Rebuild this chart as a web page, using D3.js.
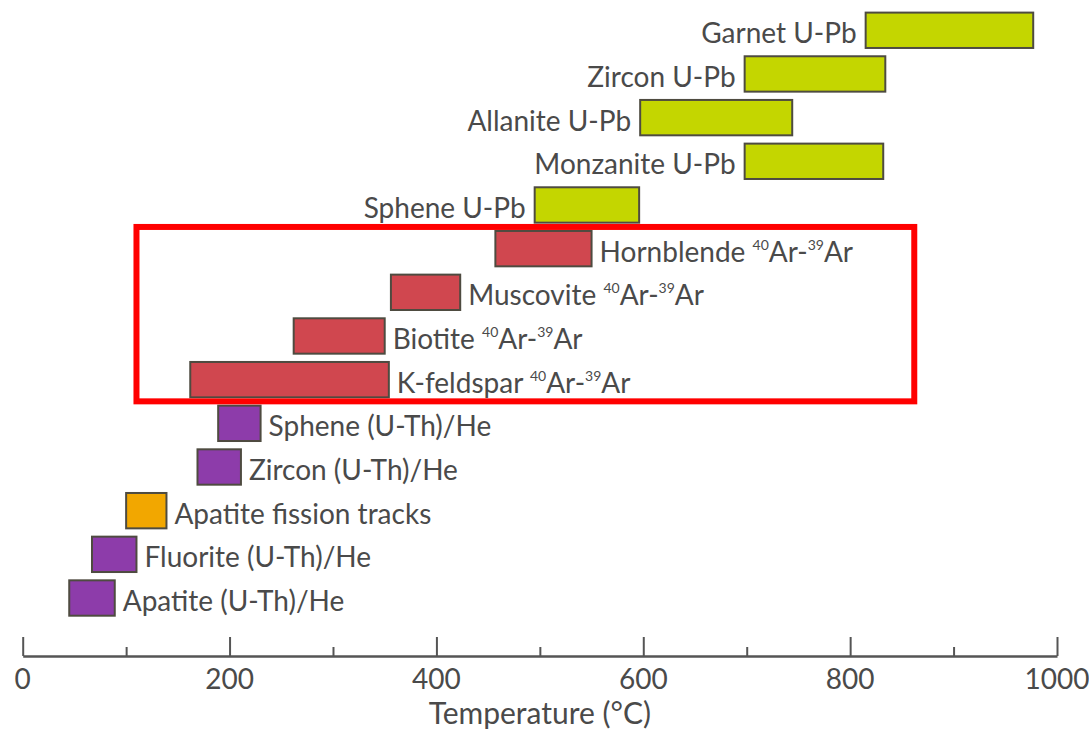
<!DOCTYPE html>
<html>
<head>
<meta charset="utf-8">
<script src="https://cdn.jsdelivr.net/npm/d3@7"></script>
<style>
  html, body { margin: 0; padding: 0; background: #ffffff; }
  svg { display: block; }
  text { font-family: Lato, "Noto Sans", sans-serif; fill: #4a4a4a; }
</style>
</head>
<body>
<svg id="chart" width="1089" height="731"></svg>
<script>
// ---- data (top to bottom) ----
const minerals = ["Garnet", "Zircon", "Allanite", "Monzanite", "Sphene",
                  "Hornblende", "Muscovite", "Biotite", "K-feldspar",
                  "Sphene", "Zircon", "Apatite", "Fluorite", "Apatite"];
const methods = ["U-Pb", "U-Pb", "U-Pb", "U-Pb", "U-Pb",
                 "ArAr", "ArAr", "ArAr", "ArAr",
                 "(U-Th)/He", "(U-Th)/He", "fission tracks", "(U-Th)/He", "(U-Th)/He"];
const tLow  = [815, 698, 597, 698, 495, 457, 356, 262, 162, 189, 169, 100, 67, 45];
const tHigh = [977, 834, 744, 832, 596, 550, 423, 350, 354, 230, 211, 139, 110, 89];
const tickValues = [0, 200, 400, 600, 800, 1000];
const minorTicks = [100, 300, 500, 700, 900];
const axisTitle = "Temperature (°C)";
const highlightFrom = 110, highlightTo = 862; // annotation box extent (°C)

const colors = {"U-Pb": "#c4d600", "ArAr": "#d0474f", "(U-Th)/He": "#8d3caa", "fission tracks": "#f2a700"};

const rows = minerals.map((m, i) => ({
  key: m + " " + methods[i],
  name: m, method: methods[i], lo: tLow[i], hi: tHigh[i]
}));

const svg = d3.select("#chart");
const x = d3.scaleLinear().domain([0, 1000]).range([22.7, 1057]);
const y = d3.scaleBand().domain(rows.map(d => d.key)).range([12.6, 615.7]).paddingInner(0.19).paddingOuter(0);

// bars
svg.append("g").selectAll("rect").data(rows).join("rect")
  .attr("x", d => x(d.lo))
  .attr("y", d => y(d.key))
  .attr("width", d => x(d.hi) - x(d.lo))
  .attr("height", y.bandwidth())
  .attr("fill", d => colors[d.method])
  .attr("stroke", "#4e4b40")
  .attr("stroke-width", 2);

// labels
const fs = 28;
const lab = svg.append("g").selectAll("text").data(rows).join("text")
  .attr("font-size", fs)
  .attr("x", d => d.method === "U-Pb" ? x(d.lo) - 9 : x(d.hi) + 8)
  .attr("y", d => y(d.key) + y.bandwidth() / 2 + 13)
  .attr("text-anchor", d => d.method === "U-Pb" ? "end" : "start");

lab.each(function(d) {
  const t = d3.select(this);
  if (d.method === "ArAr") {
    t.append("tspan").text(d.name + " ");
    t.append("tspan").attr("font-size", 14).attr("dy", -12).text("40");
    t.append("tspan").attr("dy", 12).text("Ar-");
    t.append("tspan").attr("font-size", 14).attr("dy", -12).text("39");
    t.append("tspan").attr("dy", 12).text("Ar");
  } else {
    t.text(d.name + " " + d.method);
  }
});

// axis
const axisY = 656;
const ax = svg.append("g").attr("transform", `translate(0,${axisY})`);
ax.call(d3.axisTop(x).tickValues(tickValues).tickSize(19).tickFormat(() => "").tickSizeOuter(0));
ax.append("g").call(d3.axisTop(x).tickValues(minorTicks).tickSize(9).tickFormat(() => "").tickSizeOuter(0));
ax.selectAll("path.domain").attr("stroke", "#555").attr("stroke-width", 2.5);
ax.selectAll(".tick line").attr("stroke", "#555").attr("stroke-width", 2);
ax.selectAll(".domain").filter((d, i, n) => n[i].parentNode !== ax.node()).remove();

svg.append("g").selectAll("text").data(tickValues).join("text")
  .attr("x", d => x(d))
  .attr("y", axisY + 33)
  .attr("text-anchor", "middle")
  .attr("font-size", fs)
  .text(d => d);

svg.append("text")
  .attr("x", x(500))
  .attr("y", axisY + 68)
  .attr("text-anchor", "middle")
  .attr("font-size", 30)
  .text(axisTitle);

// highlight box
const hk = rows[5].key, lk = rows[8].key;
svg.append("rect")
  .attr("x", x(highlightFrom))
  .attr("y", y(hk) - 4)
  .attr("width", x(highlightTo) - x(highlightFrom))
  .attr("height", y(lk) + y.bandwidth() + 4 - (y(hk) - 4))
  .attr("fill", "none")
  .attr("stroke", "#ff0000")
  .attr("stroke-width", 6);
</script>
</body>
</html>
